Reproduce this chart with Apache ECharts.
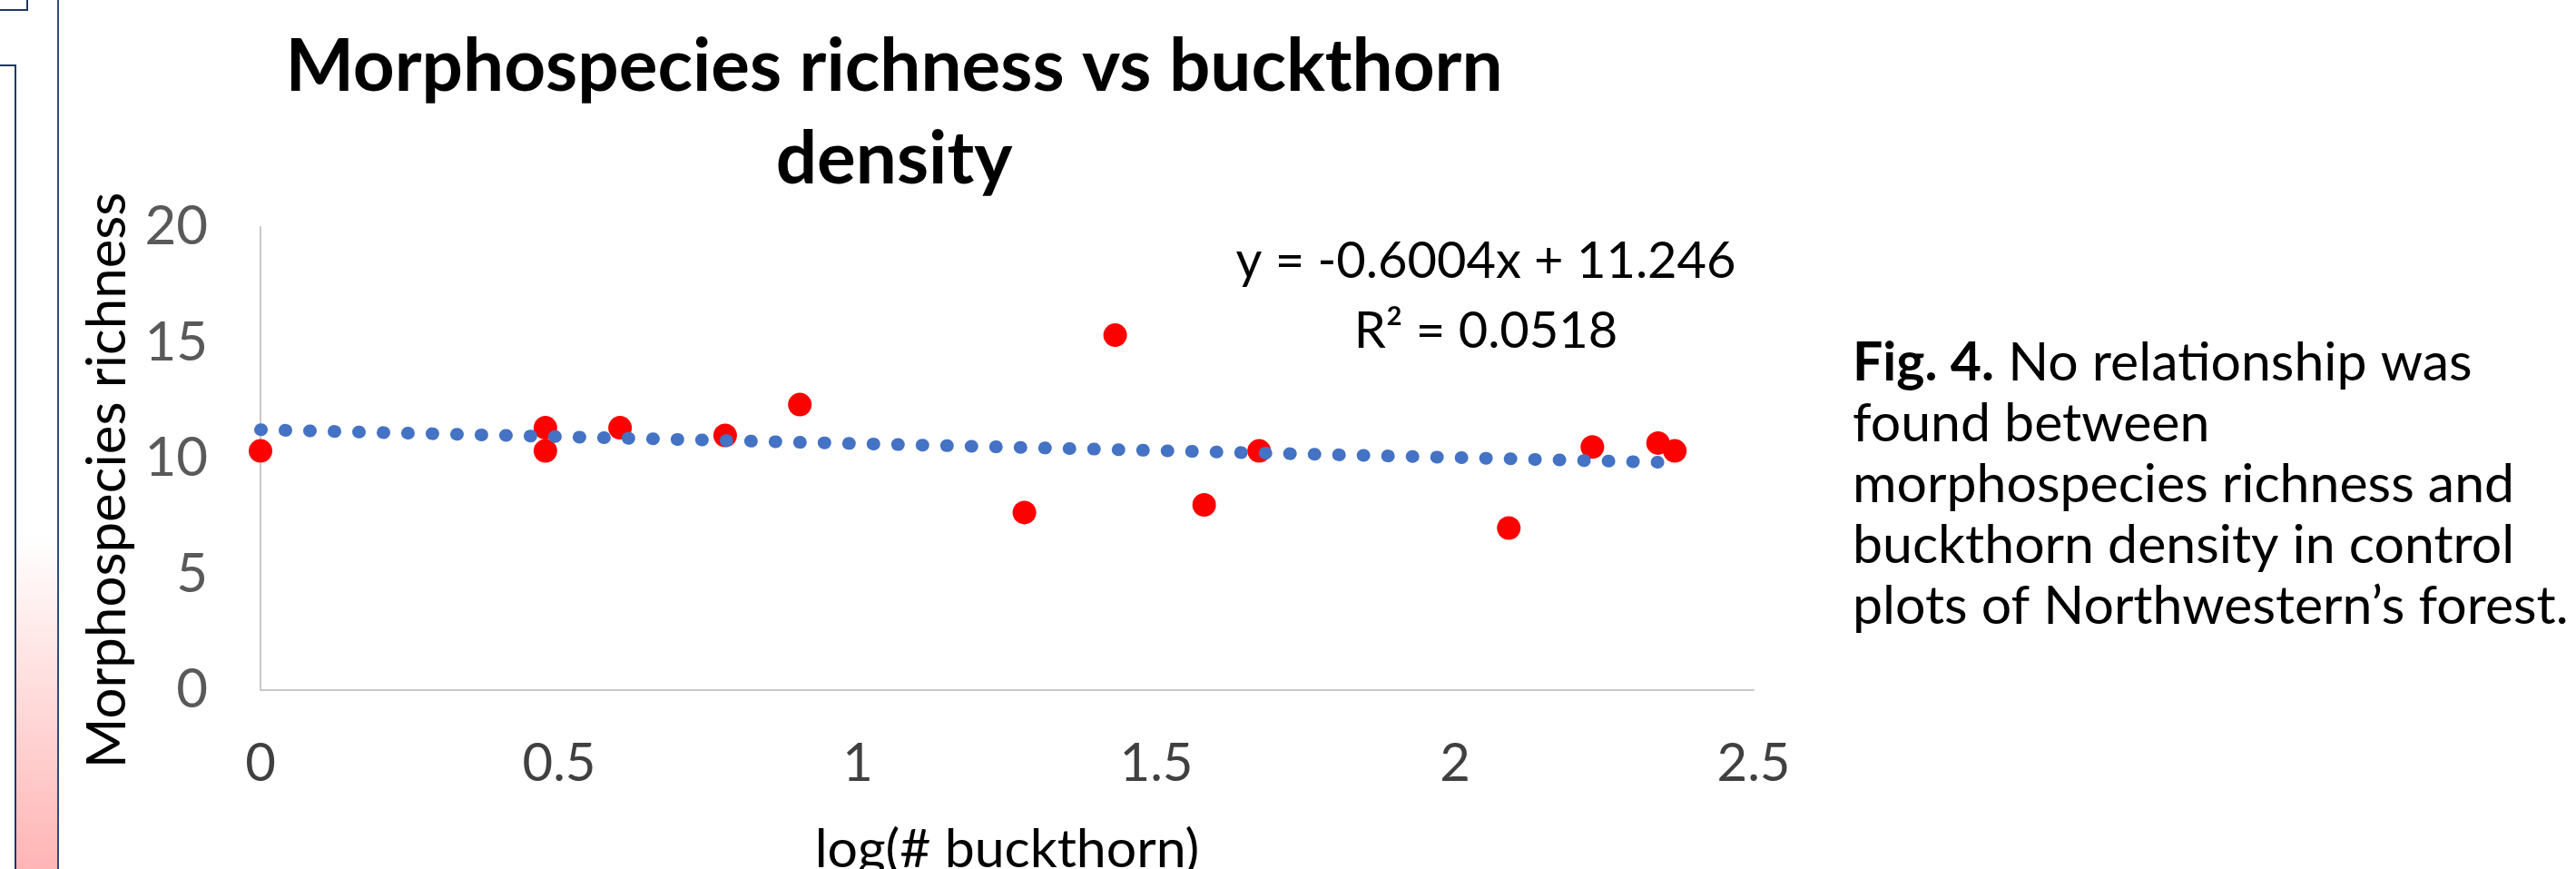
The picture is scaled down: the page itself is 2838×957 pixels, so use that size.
<!DOCTYPE html>
<html>
<head>
<meta charset="utf-8">
<title>Morphospecies richness vs buckthorn density</title>
<script src="https://cdn.jsdelivr.net/npm/echarts/dist/echarts.min.js"></script>
<style>
  html, body { margin: 0; padding: 0; background: #fff; }
  #chart { width: 2838px; height: 957px; }
</style>
</head>
<body>
<div id="chart"></div>
<script>
// log(# buckthorn) per plot
var logBuckthorn = [0, 0.477, 0.477, 0.602, 0.778, 0.903, 1.279, 1.431, 1.580, 1.672, 2.090, 2.230, 2.340, 2.368]
// mean morphospecies richness per plot
var richness = [10.33, 11.33, 10.33, 11.33, 11.0, 12.33, 7.67, 15.33, 8.0, 10.33, 7.0, 10.5, 10.67, 10.33]
// linear trendline ends, y = -0.6004x + 11.246
var trendX = [0, 2.368]
var trendY = [11.246, 9.824]
var xTicks = [0, 0.5, 1, 1.5, 2, 2.5]
var yTicks = [0, 5, 10, 15, 20]

var font = 'Lato, "Open Sans", sans-serif'
var myChart = echarts.init(document.getElementById('chart'))

var scatterData = logBuckthorn.map(function (x, i) { return [x, richness[i]] })
var trendData = trendX.map(function (x, i) { return [x, trendY[i]] })

var option = {
  animation: false,
  backgroundColor: '#fff',
  title: [{
    text: 'Morphospecies richness vs buckthorn\ndensity',
    left: 980,
    top: 18,
    textAlign: 'center',
    textStyle: {
      fontFamily: font,
      fontSize: 80,
      fontWeight: 'bold',
      color: '#000',
      lineHeight: 102
    }
  }, {
    text: 'y = -0.6004x + 11.246\nR² = 0.0518',
    left: 1632,
    top: 244,
    textAlign: 'center',
    textStyle: {
      fontFamily: font,
      fontSize: 56,
      fontWeight: 'normal',
      color: '#000',
      lineHeight: 77
    }
  }, {
    text: '{b|Fig. 4.} No relationship was\nfound between\nmorphospecies richness and\nbuckthorn density in control\nplots of Northwestern’s forest.',
    left: 2036,
    top: 361,
    textStyle: {
      fontFamily: font,
      fontSize: 59,
      fontWeight: 'normal',
      color: '#000',
      lineHeight: 67,
      rich: {
        b: { fontFamily: font, fontSize: 59, fontWeight: 'bold', color: '#000', lineHeight: 67 }
      }
    }
  }],
  graphic: [
    // bits of the poster around the chart
    { type: 'rect', shape: { x: -4, y: -4, width: 34, height: 15 }, style: { fill: 'none', stroke: '#1f3864', lineWidth: 2 } },
    {
      type: 'rect',
      shape: { x: 18, y: 590, width: 46, height: 370 },
      style: {
        fill: new echarts.graphic.LinearGradient(0, 0, 0, 1, [
          { offset: 0, color: '#ffffff' },
          { offset: 1, color: '#ffb4b4' }
        ])
      }
    },
    { type: 'rect', shape: { x: -4, y: 72, width: 21, height: 890 }, style: { fill: 'none', stroke: '#1f3864', lineWidth: 2 } },
    { type: 'line', shape: { x1: 64, y1: 0, x2: 64, y2: 957 }, style: { stroke: '#2e4a86', lineWidth: 2 } }
  ],
  grid: {
    left: 287,
    right: 906,
    top: 250,
    bottom: 197,
    containLabel: false,
    outerBoundsMode: 'none'
  },
  xAxis: {
    type: 'value',
    min: xTicks[0],
    max: xTicks[xTicks.length - 1],
    interval: 0.5,
    name: 'log(# buckthorn)',
    nameLocation: 'middle',
    nameGap: 146,
    nameTextStyle: { fontFamily: font, fontSize: 59, color: '#000' },
    axisLine: { show: true, lineStyle: { color: '#c9c9c9', width: 2 } },
    axisTick: { show: false },
    splitLine: { show: false },
    axisLabel: { fontFamily: font, fontSize: 58, color: '#404040', margin: 52 }
  },
  yAxis: {
    type: 'value',
    min: yTicks[0],
    max: yTicks[yTicks.length - 1],
    interval: 5,
    name: 'Morphospecies richness',
    nameLocation: 'middle',
    nameGap: 106,
    nameTextStyle: { fontFamily: font, fontSize: 60, color: '#000', padding: [0, 48, 0, 0] },
    axisLine: { show: true, lineStyle: { color: '#c9c9c9', width: 2 } },
    axisTick: { show: false },
    splitLine: { show: false },
    axisLabel: { fontFamily: font, fontSize: 60, color: '#595959', margin: 58 }
  },
  series: [{
    name: 'plots',
    type: 'scatter',
    symbol: 'circle',
    symbolSize: 26,
    itemStyle: { color: '#ff0000', opacity: 1 },
    data: scatterData,
    z: 2
  }, {
    name: 'trend',
    type: 'line',
    showSymbol: false,
    data: trendData,
    lineStyle: {
      color: '#4472c4',
      width: 14,
      type: [1, 26],
      cap: 'round'
    },
    z: 3
  }]
}
myChart.setOption(option)
window.addEventListener('resize', function () {
  myChart.resize()
})
</script>
</body>
</html>
